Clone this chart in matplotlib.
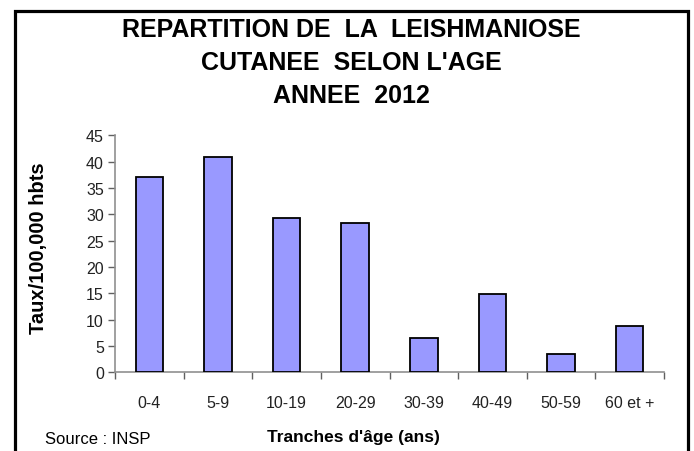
import matplotlib
matplotlib.use("Agg")
import matplotlib.pyplot as plt
from matplotlib.patches import Rectangle

# Données
tranches = ["0-4", "5-9", "10-19", "20-29", "30-39", "40-49", "50-59", "60 et +"]
taux = [37.1, 40.9, 29.3, 28.4, 6.5, 14.9, 3.4, 8.8]
yticks = list(range(0, 50, 5))

plt.rcParams["font.family"] = ["Liberation Sans", "DejaVu Sans"]

W, H = 694, 452
fig = plt.figure(figsize=(W / 100, H / 100), dpi=100)
ax = fig.add_axes([115 / W, (H - 373.3) / H, (664 - 115) / W, (373.3 - 136.4) / H])

x = range(len(tranches))
ax.bar(x, taux, width=0.4, color="#9999ff", edgecolor="black", linewidth=1.3, zorder=3)

ax.set_xlim(-0.5, len(tranches) - 0.5)
ax.set_ylim(0, 45)
ax.set_yticks(yticks)
ax.set_yticklabels([str(v) for v in yticks], fontsize=11.5, color="#222222")

# graduations entre les catégories
ax.set_xticks([i - 0.5 for i in range(len(tranches) + 1)])
ax.set_xticklabels([])
ax.set_xticks(list(x), minor=True)
ax.set_xticklabels(tranches, minor=True, fontsize=11.5, color="#222222")
ax.tick_params(axis="x", which="minor", length=0, pad=16)
ax.tick_params(axis="x", which="major", length=5, color="#606060", width=1)
ax.tick_params(axis="y", length=5, color="#606060", width=1, pad=3)

for s in ("top", "right"):
    ax.spines[s].set_visible(False)
for s in ("left", "bottom"):
    ax.spines[s].set_color("#909090")
    ax.spines[s].set_linewidth(1.2)

fig.text(39 / W, 1 - 248 / H, "Taux/100,000 hbts", fontsize=14.5, fontweight="bold",
         rotation=90, ha="center", va="center")
fig.text(353 / W, 1 - 438 / H, "Tranches d'âge (ans)", fontsize=12.5, fontweight="bold",
         ha="center", va="center")
fig.text(45 / W, 1 - 440 / H, "Source : INSP", fontsize=12, ha="left", va="center")

titre = ["REPARTITION DE  LA  LEISHMANIOSE", "CUTANEE  SELON L'AGE", "ANNEE  2012"]
for i, ligne in enumerate(titre):
    fig.text(0.5 * (15 + 687) / W, 1 - (30 + 33 * i) / H, ligne, fontsize=18,
             fontweight="bold", ha="center", va="center")

fig.add_artist(Rectangle((14.5 / W, -0.05), (687.5 - 14.5) / W, 1.05 - 12 / H,
                         transform=fig.transFigure, fill=False, edgecolor="black",
                         linewidth=2.3, clip_on=False))

fig.savefig("out.png", dpi=100)
